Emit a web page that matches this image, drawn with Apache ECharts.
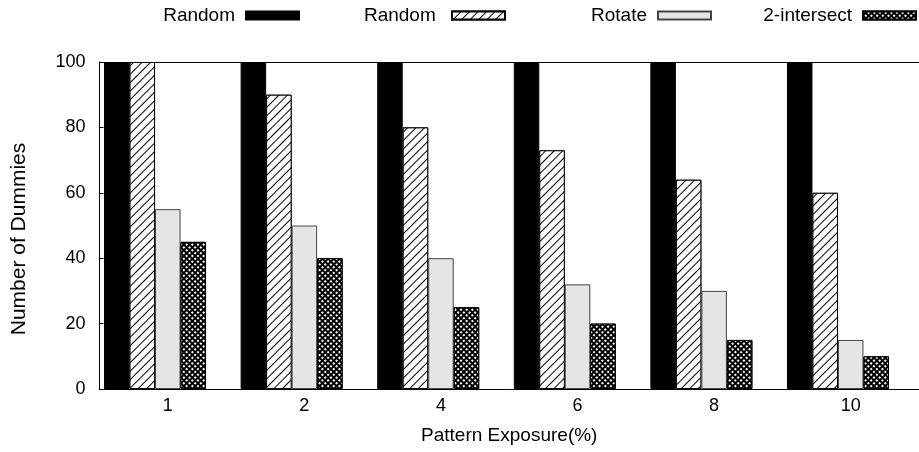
<!DOCTYPE html>
<html><head><meta charset="utf-8">
<script src="https://cdn.jsdelivr.net/npm/echarts@6/dist/echarts.min.js"></script>
<style>html,body{margin:0;padding:0;background:#fff}#c{width:919px;height:452px}</style>
</head><body><div id="c"></div>
<script>
const categories = ['1', '2', '4', '6', '8', '10'];
const randomSolid = [100, 100, 100, 100, 100, 100];
const randomHatched = [100, 90, 80, 73, 64, 60];
const rotateVals = [55, 50, 40, 32, 30, 15];
const intersectVals = [45, 40, 25, 20, 15, 10];
const spacerVals = [];
const yMin = 0, yMax = 100, yStep = 20;
const xTitle = 'Pattern Exposure(%)';
const yTitle = 'Number of Dummies';
const legendNames = ['Random', 'Random ', 'Rotate', '2-intersect'];

const FONT = '"Liberation Sans", Arial, sans-serif';
const chart = echarts.init(document.getElementById('c'), null, {renderer: 'canvas'});

const legendRights = [619, 413, 207, 2];
const legends = legendNames.map((n, i) => ({
  data: [n], right: legendRights[i], top: 6, padding: 0, itemGap: 0,
  itemWidth: 53, itemHeight: 8, align: 'right', icon: 'rect', selectedMode: false,
  textStyle: {fontFamily: FONT, fontSize: 19, color: '#000', padding: [0, 6, 0, 0]}
}));

const common = {type: 'bar', barWidth: 25.5, barGap: '0%', xAxisIndex: 0, yAxisIndex: 0};

const option = {
  animation: false,
  backgroundColor: '#fff',
  legend: legends,
  grid: {left: 99.5, width: 825, top: 62, bottom: 63, containLabel: false},
  xAxis: [{
    type: 'category', position: 'bottom', data: categories,
    axisLine: {lineStyle: {color: '#000', width: 1}},
    axisTick: {inside: true, alignWithLabel: true, length: 4, lineStyle: {color: '#000'}},
    axisLabel: {fontFamily: FONT, fontSize: 18, color: '#000', margin: 8},
    splitLine: {show: false},
    name: xTitle, nameLocation: 'middle', nameGap: 37,
    nameTextStyle: {fontFamily: FONT, fontSize: 19, color: '#000'}
  }, {
    type: 'category', position: 'top', data: categories,
    axisLine: {lineStyle: {color: '#000', width: 1}},
    axisTick: {inside: true, alignWithLabel: true, length: 4, lineStyle: {color: '#000'}},
    axisLabel: {show: false}, splitLine: {show: false}
  }],
  yAxis: [{
    type: 'value', min: yMin, max: yMax, interval: yStep,
    axisLine: {show: true, lineStyle: {color: '#000', width: 1}},
    axisTick: {show: true, inside: true, length: 4, lineStyle: {color: '#000'}},
    axisLabel: {fontFamily: FONT, fontSize: 18, color: '#000', margin: 14},
    splitLine: {show: false}
  }],
  graphic: [{
    type: 'text', x: 19.5, y: 239, rotation: Math.PI / 2,
    style: {text: yTitle, fontFamily: FONT, fontSize: 21, fill: '#000', align: 'center', verticalAlign: 'middle'}
  }],
  series: [
    Object.assign({}, common, {name: legendNames[0], data: randomSolid,
      itemStyle: {color: '#000', borderColor: '#000', borderWidth: 1}}),
    Object.assign({}, common, {name: legendNames[1], data: randomHatched,
      itemStyle: {color: '#fff', borderColor: '#000', borderWidth: 1,
        decal: {symbol: 'rect', symbolSize: 1, color: '#000', backgroundColor: '#fff',
          dashArrayX: [1, 0], dashArrayY: [1, 5], rotation: -Math.PI / 4}}}),
    Object.assign({}, common, {name: legendNames[2], data: rotateVals,
      itemStyle: {color: '#e5e5e5', borderColor: '#444', borderWidth: 1}}),
    Object.assign({}, common, {name: legendNames[3], data: intersectVals,
      itemStyle: {color: '#000', borderColor: '#000', borderWidth: 1,
        decal: {symbol: 'rect', symbolSize: 1, color: '#fff', backgroundColor: '#000',
          dashArrayX: [1.3, 1.3], dashArrayY: [1.3, 1.3], rotation: Math.PI / 4}}}),
    Object.assign({}, common, {name: 'spacer', data: spacerVals, itemStyle: {color: 'transparent'}})
  ]
};
chart.setOption(option);
</script></body></html>
